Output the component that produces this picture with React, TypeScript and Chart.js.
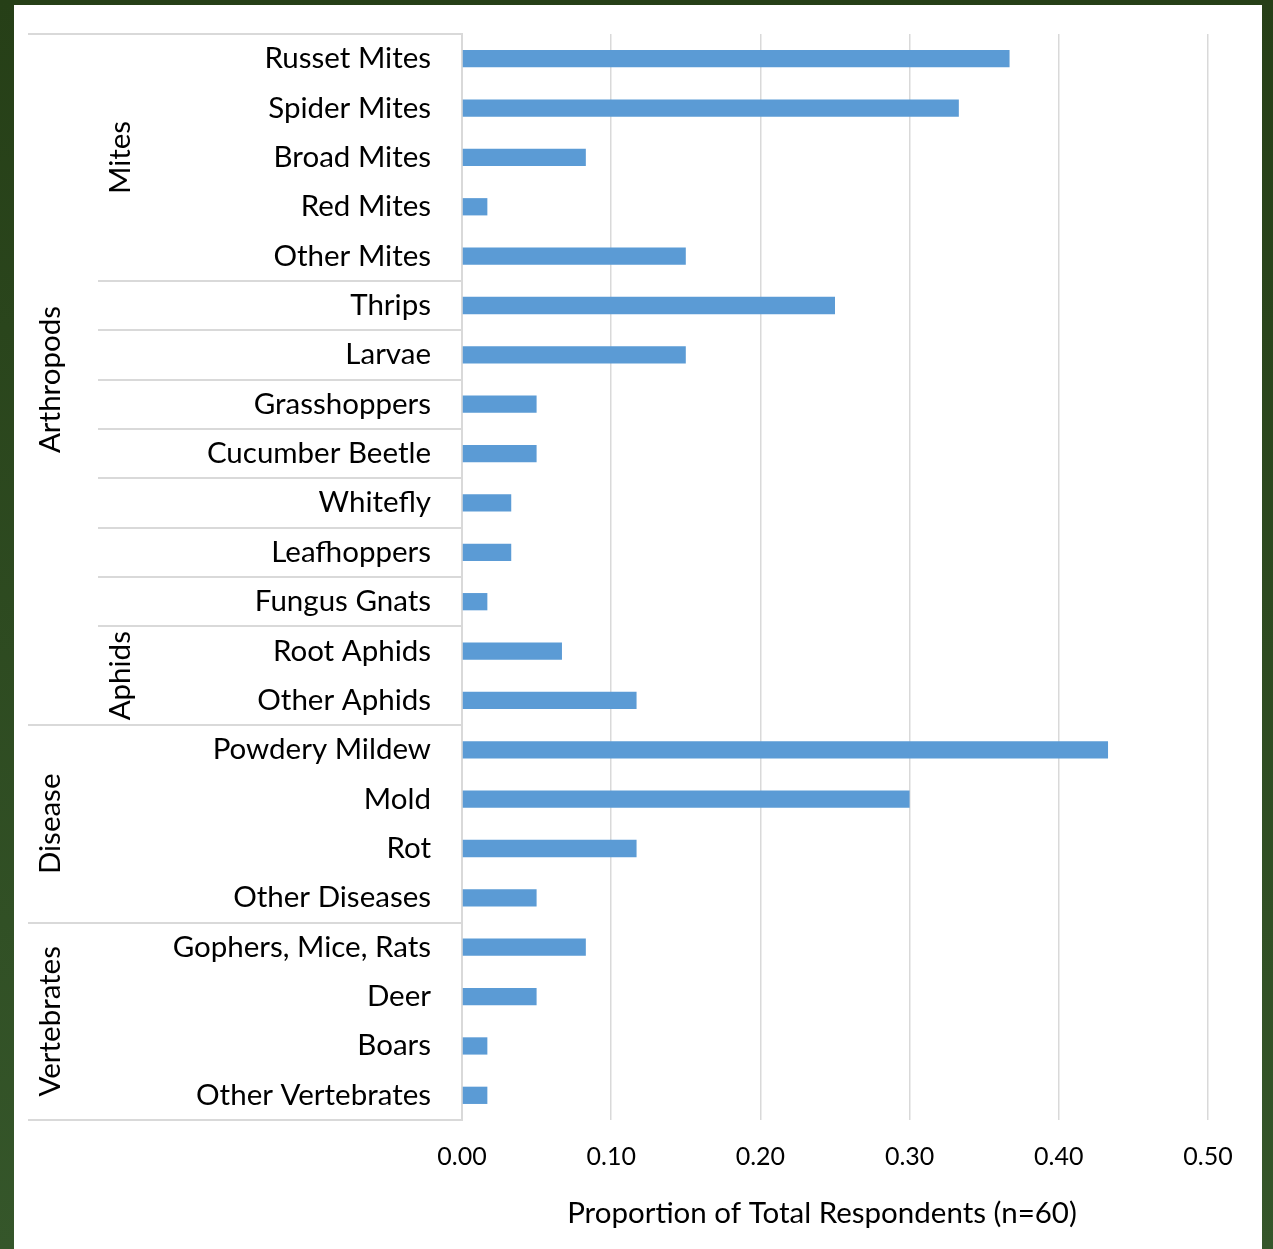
import React, { useEffect, useRef } from "react";
import { Chart, registerables } from "chart.js";

Chart.register(...registerables);

const categories = [
  "Russet Mites", "Spider Mites", "Broad Mites", "Red Mites", "Other Mites",
  "Thrips", "Larvae", "Grasshoppers", "Cucumber Beetle", "Whitefly",
  "Leafhoppers", "Fungus Gnats", "Root Aphids", "Other Aphids",
  "Powdery Mildew", "Mold", "Rot", "Other Diseases",
  "Gophers, Mice, Rats", "Deer", "Boars", "Other Vertebrates",
];
const values = [
  0.367, 0.333, 0.083, 0.017, 0.15,
  0.25, 0.15, 0.05, 0.05, 0.033,
  0.033, 0.017, 0.067, 0.117,
  0.433, 0.3, 0.117, 0.05,
  0.083, 0.05, 0.017, 0.017,
];
const level1Labels = ["Arthropods", "Disease", "Vertebrates"];
const level1Spans = [14, 4, 4];
const level2Labels = ["Mites", "", "", "", "", "", "", "", "Aphids"];
const level2Spans = [5, 1, 1, 1, 1, 1, 1, 1, 2];
const xTicks = [0, 0.1, 0.2, 0.3, 0.4, 0.5];
const xTitle = "Proportion of Total Respondents (n=60)";

const FONT = "Lato";
const LINE = "#d9d9d9";
const LABEL_SIZE = 29.5;

const groupPlugin = {
  id: "groupAxis",
  afterDraw(chart: any) {
    const { ctx, chartArea } = chart;
    const y = chart.scales.y;
    const n = categories.length;
    const band = (y.getPixelForValue(n - 1) - y.getPixelForValue(0)) / (n - 1);
    const top = (i: number) => y.getPixelForValue(i) - band / 2;
    const l1Left = 14;
    const l2Left = 84;
    const right = chartArea.left;
    ctx.save();
    ctx.strokeStyle = LINE;
    ctx.lineWidth = 2;
    const hline = (x0: number, yy: number) => {
      ctx.beginPath();
      ctx.moveTo(x0, Math.round(yy));
      ctx.lineTo(right, Math.round(yy));
      ctx.stroke();
    };
    hline(l1Left, top(0));
    ctx.fillStyle = "#000";
    ctx.font = `${LABEL_SIZE}px ${FONT}`;
    ctx.textAlign = "center";
    ctx.textBaseline = "middle";
    let start = 0;
    level1Labels.forEach((lab, gi) => {
      const end = start + level1Spans[gi];
      hline(l1Left, top(end));
      const cy = (top(start) + top(end)) / 2;
      ctx.save();
      ctx.translate(36, cy);
      ctx.rotate(-Math.PI / 2);
      ctx.fillText(lab, 0, 0);
      ctx.restore();
      start = end;
    });
    start = 0;
    level2Labels.forEach((lab, gi) => {
      const end = start + level2Spans[gi];
      if (gi < level2Labels.length - 1) hline(l2Left, top(end));
      if (lab) {
        const cy = (top(start) + top(end)) / 2;
        ctx.save();
        ctx.translate(106, cy);
        ctx.rotate(-Math.PI / 2);
        ctx.fillText(lab, 0, 0);
        ctx.restore();
      }
      start = end;
    });
    // x axis title
    ctx.fillText(xTitle, (chartArea.left + chartArea.right) / 2 - 13, chartArea.bottom + 93);
    ctx.restore();
  },
};

export default function App() {
  const ref = useRef<HTMLCanvasElement>(null);
  useEffect(() => {
    if (!ref.current) return;
    const chart = new Chart(ref.current, {
      type: "bar",
      data: {
        labels: categories,
        datasets: [
          {
            data: values,
            backgroundColor: "#5b9bd5",
            barPercentage: 0.35,
            categoryPercentage: 1,
          },
        ],
      },
      options: {
        indexAxis: "y",
        animation: false,
        responsive: false,
        layout: { padding: { top: 29, right: 54, left: 0, bottom: 0 } },
        plugins: { legend: { display: false }, tooltip: { enabled: false } },
        scales: {
          x: {
            min: 0,
            max: 0.5,
            afterBuildTicks: (s: any) => {
              s.ticks = xTicks.map((v) => ({ value: v }));
            },
            ticks: {
              callback: (v: any) => Number(v).toFixed(2),
              color: "#000",
              font: { family: FONT, size: 25 },
              padding: 22,
            },
            grid: { color: LINE, lineWidth: 1.5, drawTicks: false },
            border: { display: false },
            title: { display: false },
            afterFit: (s: any) => {
              s.height = 129;
            },
          },
          y: {
            ticks: {
              color: "#000",
              font: { family: FONT, size: LABEL_SIZE },
              padding: 31,
              autoSkip: false,
            },
            grid: { display: false, drawTicks: false },
            border: { color: LINE, width: 2 },
            afterFit: (s: any) => {
              s.width = 448;
              s.paddingTop = 0;
              s.paddingBottom = 0;
            },
          },
        },
      },
      plugins: [groupPlugin],
    });
    return () => chart.destroy();
  }, []);
  return (
    <div
      style={{
        position: "fixed",
        left: 0,
        top: 0,
        width: 1273,
        height: 1249,
        background: "linear-gradient(180deg, #263f17 0%, #35562a 100%)",
      }}
    >
      <div
        style={{
          position: "absolute",
          left: 14,
          top: 5,
          width: 1248,
          height: 1244,
          background: "#fff",
        }}
      >
        <canvas ref={ref} width={1248} height={1244} style={{ display: "block" }} />
      </div>
    </div>
  );
}
